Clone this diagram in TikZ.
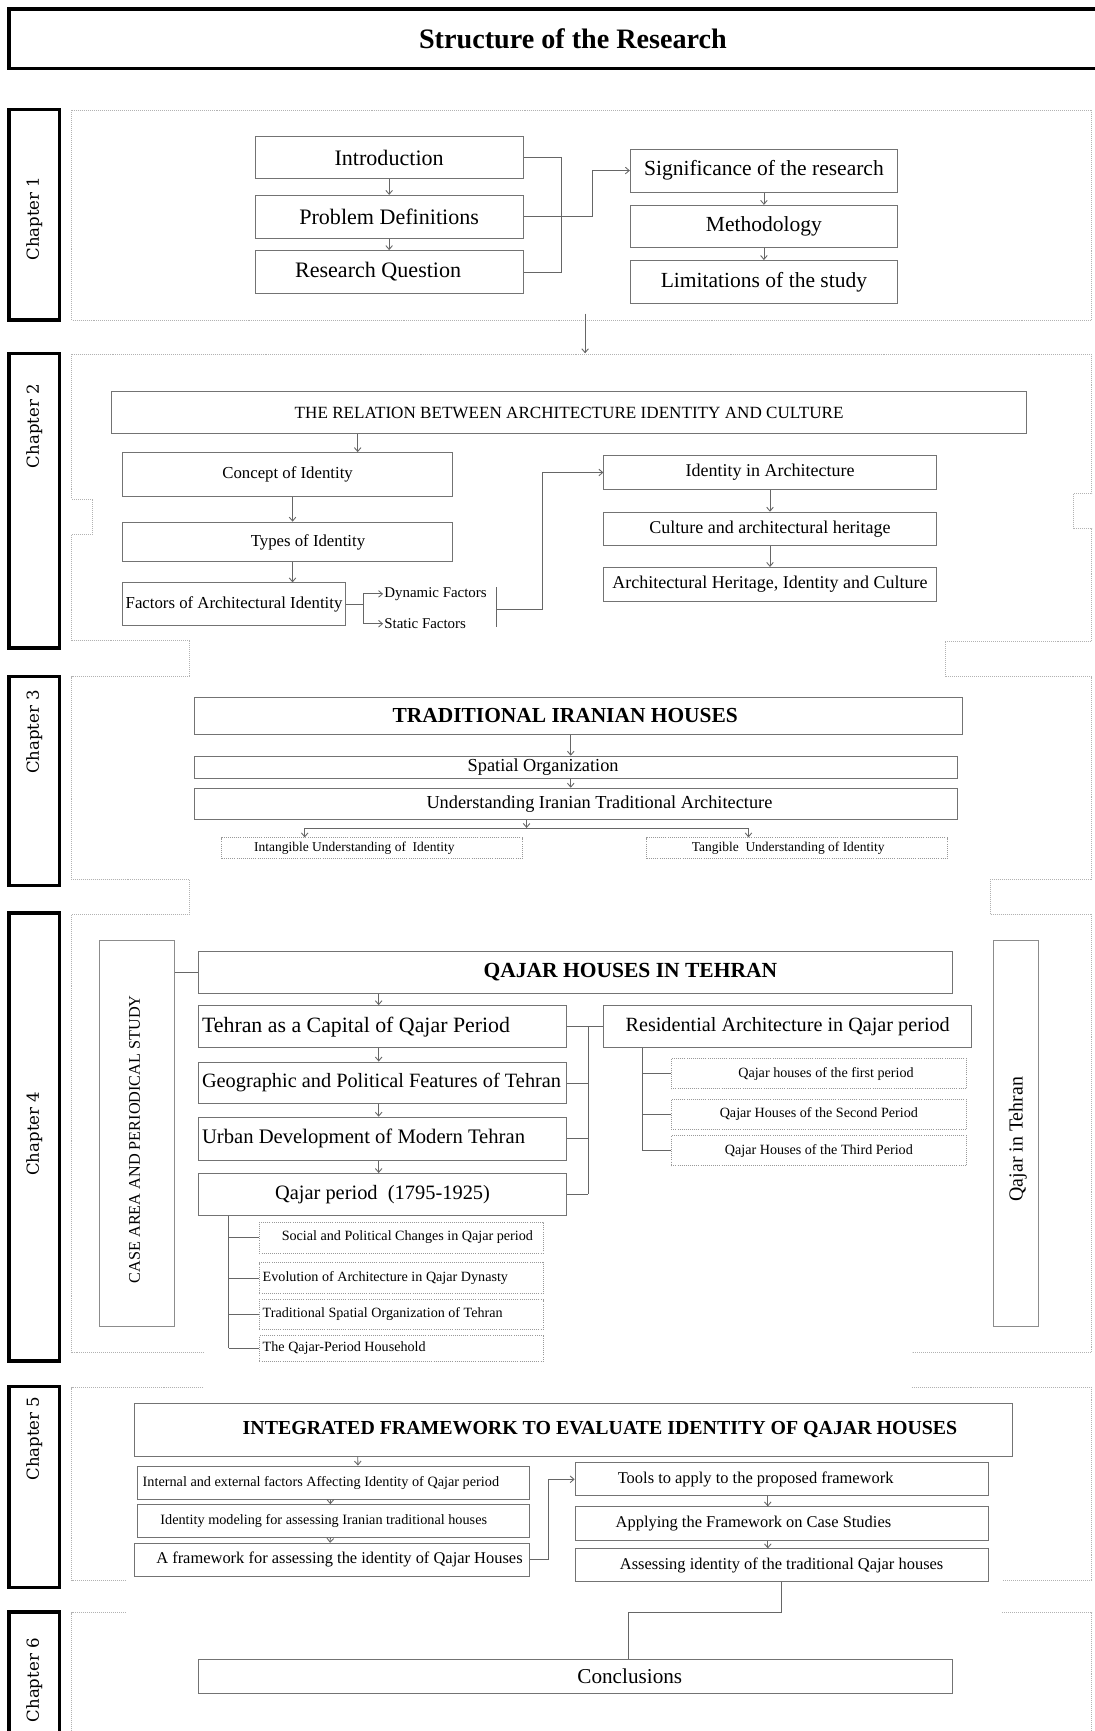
\documentclass[tikz,border=0pt]{standalone}
\usepackage{fontspec}
\setmainfont{Liberation Serif}
\newfontfamily\chapfont{DejaVu Serif}
\usetikzlibrary{arrows.meta}
\newcommand\fsz[1]{\fontsize{#1}{#1}\selectfont}
% left-aligned text line of a given width
\newcommand\lft[2]{\makebox[#1][l]{#2}}
% box from its corners: style, name, x1, y1, x2, y2, text
\newcommand\boxat[7]{\node[#1, minimum width={(#5-#3)*1pt}, minimum height={(#6-#4)*1pt}] (#2) at ({(#3+#5)/2},{(#4+#6)/2}) {#7};}
\begin{document}
\begin{tikzpicture}[x=1pt,y=-1pt,
  box/.style={draw=black!55, line width=0.9pt, inner sep=0pt, fill=white},
  dbox/.style={draw=black!40, densely dotted, line width=0.9pt, inner sep=0pt, fill=white},
  conn/.style={draw=black!60, line width=0.8pt},
  arr/.style={conn, -{Straight Barb[length=3.5pt,width=6pt]}},
  frm/.style={draw=black!30, densely dotted, line width=0.8pt},
  chapbox/.style={draw=black, line width=3.2pt, inner sep=0pt},
  chaptext/.style={rotate=90, font=\chapfont\fsz{15}, inner sep=0pt}]
\useasboundingbox (0,0) rectangle (991,1568);
\fill[white] (0,0) rectangle (991,1568);

% dotted chapter frames
\draw[frm] (65,100) rectangle (989,290);
\draw[frm] (65,321) -- (65,452) -- (84,452) -- (84,484) -- (65,484) -- (65,580) -- (172,580) -- (172,613) -- (65,613)
  -- (65,797) -- (172,797) -- (172,828) -- (65,828) -- (65,1225) -- (184,1225);
\draw[frm] (184,1257) -- (65,1257) -- (65,1432) -- (114,1432);
\draw[frm] (114,1461) -- (65,1461) -- (65,1580);
\draw[frm] (65,321) -- (989,321) -- (989,447) -- (972,447) -- (972,479) -- (989,479) -- (989,581) -- (856,581) -- (856,613)
  -- (989,613) -- (989,797) -- (897,797) -- (897,828) -- (989,828) -- (989,1225) -- (826,1225);
\draw[frm] (826,1257) -- (989,1257) -- (989,1432) -- (908,1432);
\draw[frm] (908,1461) -- (989,1461) -- (989,1580);

% title
\boxat{box, draw=black, line width=3.2pt, font=\bfseries\fsz{25.5}}{title}{8}{8}{1030}{62}{Structure of the Research}

% chapter tabs
\boxat{chapbox}{ch1}{8}{99}{54}{290}{}
\boxat{chapbox}{ch2}{8}{320}{54}{587}{}
\boxat{chapbox}{ch3}{8}{613}{54}{802}{}
\boxat{chapbox}{ch4}{8}{827}{54}{1233}{}
\boxat{chapbox}{ch5}{8}{1256}{54}{1438}{}
\boxat{chapbox}{ch6}{8}{1460}{54}{1600}{}
\node[chaptext] (ch1t) at (31,198) {Chapter 1};
\node[chaptext] (ch2t) at (31,386) {Chapter 2};
\node[chaptext] (ch3t) at (31,663) {Chapter 3};
\node[chaptext] (ch4t) at (31,1027) {Chapter 4};
\node[chaptext] (ch5t) at (31,1303) {Chapter 5};
\node[chaptext] (ch6t) at (31,1522) {Chapter 6};

% chapter 1
\boxat{box, font=\fsz{20}}{intro}{231}{124}{474}{162}{Introduction}
\boxat{box, font=\fsz{20}}{pdef}{231}{177}{474}{216}{Problem Definitions}
\boxat{box, font=\fsz{20}}{rq}{231}{227}{474}{266}{Research Question\hspace*{20pt}}
\boxat{box, font=\fsz{19.5}}{sig}{571}{135}{813}{174}{Significance of the research}
\boxat{box, font=\fsz{19.5}}{meth}{571}{186}{813}{224}{Methodology}
\boxat{box, font=\fsz{19.5}}{lim}{571}{236}{813}{275}{Limitations of the study}
\draw[arr] (intro) -- (pdef);
\draw[arr] (pdef) -- (rq);
\draw[conn] (intro.east) -- ++(34,0) |- (rq.east);
\draw[arr] (pdef.east) -- ++(62,0) |- (sig.west);
\draw[arr] (sig) -- (meth);
\draw[arr] (meth) -- (lim);
\coordinate (c1out) at (530,284);
\coordinate (c2in) at (530,320);
\draw[arr] (c1out) -- (c2in);

% chapter 2
\boxat{box, font=\fsz{15.5}}{rel}{101}{355}{930}{393}{THE RELATION BETWEEN ARCHITECTURE IDENTITY AND CULTURE}
\boxat{box, font=\fsz{15.2}}{conc}{111}{410}{410}{450}{Concept of Identity}
\boxat{box, font=\fsz{15.2}}{types}{111}{473}{410}{509}{\hspace*{37pt}Types of Identity}
\boxat{box, font=\fsz{15.2}}{fact}{111}{528}{313}{567}{Factors of Architectural Identity}
\node[font=\fsz{13.5}, anchor=west, inner sep=1pt] (dyn) at (347,538) {Dynamic Factors};
\node[font=\fsz{13.5}, anchor=west, inner sep=1pt] (stat) at (347,565) {Static Factors};
\boxat{box, font=\fsz{16.3}}{iarch}{547}{413}{848}{443}{Identity in Architecture}
\boxat{box, font=\fsz{16.3}}{cah}{547}{464}{848}{494}{Culture and architectural heritage}
\boxat{box, font=\fsz{16.3}}{ahic}{547}{514}{848}{545}{Architectural Heritage, Identity and Culture}
\draw[arr] ([xshift=-191.5pt]rel.south) -- ([xshift=63.5pt]conc.north);
\draw[arr] ([xshift=4.5pt]conc.south) -- ([xshift=4.5pt]types.north);
\draw[arr] ([xshift=4.5pt]types.south) -- ([xshift=53pt]fact.north);
\draw[conn] (fact.east) -- ++(16,0) coordinate (fsplit);
\draw[arr] (fsplit) |- (dyn.west);
\draw[arr] (fsplit) |- (stat.west);
\coordinate (fbt) at (450,532);
\coordinate (fbb) at (450,568);
\coordinate (fbm) at (450,552);
\draw[conn] (fbt) -- (fbb);
\draw[arr] (fbm) -- ++(41,0) |- (iarch.west);
\draw[arr] (iarch) -- (cah);
\draw[arr] (cah) -- (ahic);

% chapter 3
\boxat{box, font=\bfseries\fsz{19.4}}{tih}{176}{632}{872}{665}{TRADITIONAL IRANIAN HOUSES\hspace*{24pt}}
\boxat{box, font=\fsz{16.6}}{spat}{176}{685}{867}{705}{Spatial Organization\hspace*{59pt}}
\boxat{box, font=\fsz{16.6}}{uita}{176}{714}{867}{742}{\hspace*{43pt}Understanding Iranian Traditional Architecture}
\boxat{dbox, font=\fsz{12.2}}{intang}{201}{759}{473}{778}{Intangible Understanding of~ Identity\hspace*{32pt}}
\boxat{dbox, font=\fsz{12.2}}{tang}{586}{759}{858}{778}{Tangible~ Understanding of Identity\hspace*{16pt}}
\draw[arr] ([xshift=-7pt]tih.south) -- ([xshift=-4.5pt]spat.north);
\draw[arr] ([xshift=-4.5pt]spat.south) -- ([xshift=-4.5pt]uita.north);
\coordinate (usplit) at (477,750);
\draw[arr] ([xshift=-44.5pt]uita.south) -- (usplit);
\draw[arr] (usplit) -| ([xshift=-61pt]intang.north);
\draw[arr] (usplit) -| ([xshift=-44pt]tang.north);

% chapter 4
\boxat{box, draw=black!45}{case}{90.5}{852}{158}{1202}{}
\node[rotate=90, font=\fsz{14.7}, inner sep=0pt] (caset) at (122,1032) {CASE AREA AND PERIODICAL STUDY};
\boxat{box, draw=black!45}{qit}{900}{852}{940.5}{1202}{}
\node[rotate=90, font=\fsz{18}, inner sep=0pt] (qitt) at (922,1032) {Qajar in Tehran};
\boxat{box, font=\bfseries\fsz{19.5}}{qht}{180}{862}{863}{900}{\hspace*{99pt}QAJAR HOUSES IN TEHRAN}
\draw[conn] (case.east |- qht.west) -- (qht.west);
\boxat{box, font=\fsz{19.8}}{teh}{180}{911}{513}{949}{\lft{327pt}{Tehran as a Capital of Qajar Period}}
\boxat{box, font=\fsz{18.4}}{geog}{180}{962}{513}{1000}{\lft{327pt}{Geographic and Political Features of Tehran}}
\boxat{box, font=\fsz{18.7}}{urb}{180}{1012}{513}{1051}{\lft{327pt}{Urban Development of Modern Tehran}}
\boxat{box, font=\fsz{18.5}}{qper}{180}{1063}{513}{1101}{Qajar period~ (1795-1925)}
\boxat{box, font=\fsz{18.3}}{resi}{547}{911}{880}{949}{Residential Architecture in Qajar period}
\boxat{dbox, font=\fsz{12.8}}{qh1}{608}{959}{875.5}{986}{\hspace*{13pt}Qajar houses of the first period}
\boxat{dbox, font=\fsz{12.8}}{qh2}{608}{996}{875.5}{1023}{Qajar Houses of the Second Period}
\boxat{dbox, font=\fsz{12.8}}{qh3}{608}{1029}{875.5}{1056}{Qajar Houses of the Third Period}
\boxat{dbox, font=\fsz{12.8}}{soc}{235}{1107}{492}{1135}{\hspace*{11pt}Social and Political Changes in Qajar period}
\boxat{dbox, font=\fsz{12.8}}{evo}{235}{1144}{492}{1172}{\lft{251pt}{Evolution of Architecture in Qajar Dynasty}}
\boxat{dbox, font=\fsz{12.8}}{tso}{235}{1177.5}{492}{1204}{\lft{251pt}{Traditional Spatial Organization of Tehran}}
\boxat{dbox, font=\fsz{12.8}}{hh}{235}{1210}{492}{1233}{\lft{251pt}{The Qajar-Period Household}}
\draw[arr] ([xshift=-178.5pt]qht.south) -- ([xshift=-3.5pt]teh.north);
\draw[arr] ([xshift=-3.5pt]teh.south) -- ([xshift=-3.5pt]geog.north);
\draw[arr] ([xshift=-3.5pt]geog.south) -- ([xshift=-3.5pt]urb.north);
\draw[arr] ([xshift=-3.5pt]urb.south) -- ([xshift=-3.5pt]qper.north);
\coordinate (rbar) at (533,0);
\draw[conn] (teh.east) -- (resi.west);
\draw[conn] (teh.east -| rbar) -- (qper.east -| rbar);
\draw[conn] (geog.east) -- (geog.east -| rbar);
\draw[conn] (urb.east) -- (urb.east -| rbar);
\draw[conn] (qper.east) -- (qper.east -| rbar);
\coordinate (sbar) at (581.5,0);
\draw[conn] (resi.south -| sbar) -- (qh3.west -| sbar);
\foreach \n in {qh1,qh2,qh3} \draw[conn] (\n.west -| sbar) -- (\n.west);
\coordinate (qbar) at (207,0);
\draw[conn] (qper.south -| qbar) -- (hh.west -| qbar);
\foreach \n in {soc,evo,tso,hh} \draw[conn] (\n.west -| qbar) -- (\n.west);

% chapter 5
\boxat{box, font=\bfseries\fsz{18}}{ifw}{122}{1271}{917}{1319}{\hspace*{48pt}INTEGRATED FRAMEWORK TO EVALUATE IDENTITY OF QAJAR HOUSES}
\boxat{box, font=\fsz{12.9}}{ief}{124.5}{1328}{480}{1358}{\lft{346pt}{Internal and external factors Affecting Identity of Qajar period}}
\boxat{box, font=\fsz{12.9}}{idm}{124.5}{1363}{480}{1392.5}{Identity modeling for assessing Iranian traditional houses\hspace*{18pt}}
\boxat{box, font=\fsz{14.9}}{fwq}{122}{1398}{480}{1428}{\hspace*{13pt}A framework for assessing the identity of Qajar Houses}
\boxat{box, font=\fsz{14.9}}{tool}{521}{1325}{895}{1355}{Tools to apply to the proposed framework\hspace*{47pt}}
\boxat{box, font=\fsz{14.9}}{appl}{521}{1365}{895}{1395}{Applying the Framework on Case Studies\hspace*{51pt}}
\boxat{box, font=\fsz{14.9}}{asse}{521}{1403}{895}{1433}{Assessing identity of the traditional Qajar houses}
\draw[arr] ([xshift=-195.5pt]ifw.south) -- ([xshift=22pt]ief.north);
\draw[arr] ([xshift=-3pt]ief.south) -- ([xshift=-3pt]idm.north);
\draw[arr] ([xshift=-3pt]idm.south) -- ([xshift=-2pt]fwq.north);
\draw[arr] (fwq.east) -- ++(16,0) |- (tool.west);
\draw[arr] ([xshift=-12.5pt]tool.south) -- ([xshift=-12.5pt]appl.north);
\draw[arr] ([xshift=-12.5pt]appl.south) -- ([xshift=-12.5pt]asse.north);

% chapter 6
\boxat{box, font=\fsz{19.2}}{concl}{180}{1503}{863}{1534}{\hspace*{98pt}Conclusions}
\draw[conn] (asse.south) -- ++(0,27) -| ([xshift=47.5pt]concl.north);
\end{tikzpicture}
\end{document}
